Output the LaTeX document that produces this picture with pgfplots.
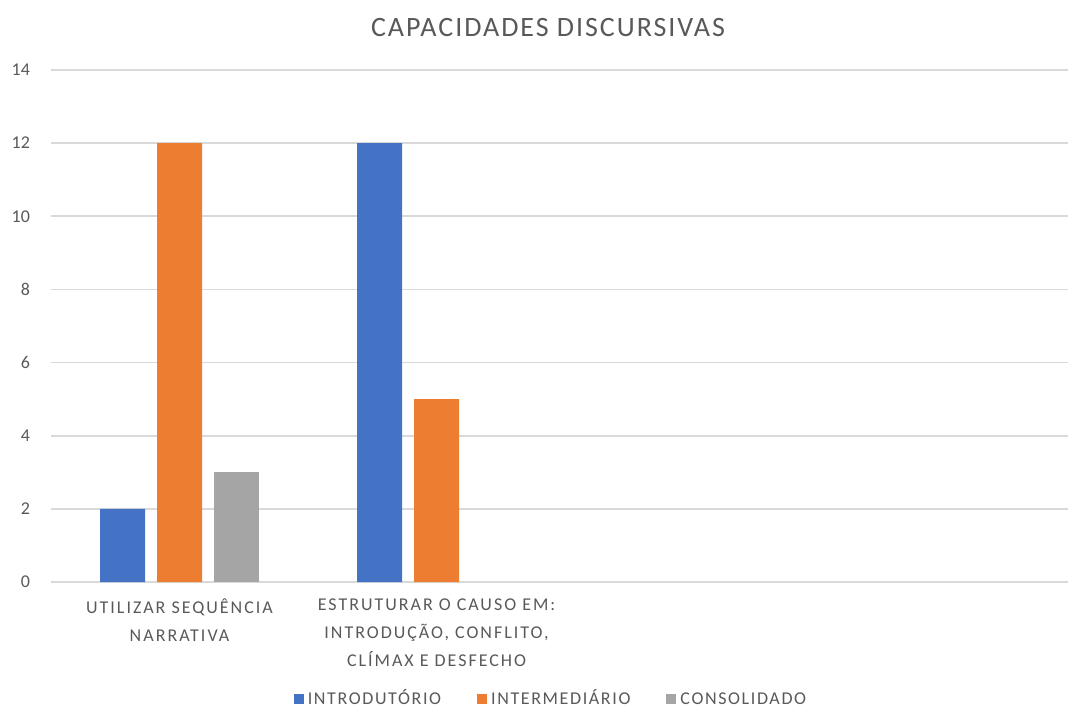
\documentclass[border=0pt]{standalone}
\usepackage{fontspec}
\setmainfont{Carlito}
\usepackage{pgfplots}
\pgfplotsset{compat=1.18}
\definecolor{cblue}{HTML}{4472C4}
\definecolor{corange}{HTML}{ED7D31}
\definecolor{cgray}{HTML}{A5A5A5}
\definecolor{ctext}{HTML}{595959}
\definecolor{cgrid}{HTML}{D9D9D9}
\begin{document}
\begin{tikzpicture}
\useasboundingbox (0,0) rectangle (534pt,353.5pt);
\node[font=\fontsize{14}{16}\selectfont\addfontfeature{LetterSpace=7}, text=ctext] at (274pt,339.5pt) {CAPACIDADES DISCURSIVAS};
\begin{axis}[
  at={(25.5pt,62.5pt)}, anchor=south west,
  width=508.5pt, height=256pt, scale only axis,
  ybar=6pt, bar width=22.5pt,
  xmin=-0.5, xmax=3.457,
  ymin=0, ymax=14,
  ytick={0,2,...,14},
  xtick={0,1,2,3},
  xticklabels={{UTILIZAR SEQUÊNCIA\\NARRATIVA},{ESTRUTURAR O CAUSO EM:\\INTRODUÇÃO, CONFLITO,\\CLÍMAX E DESFECHO},{},{}},
  xticklabel style={align=center, font=\fontsize{9}{14}\selectfont\addfontfeature{LetterSpace=11}, text=ctext, yshift=-5pt},
  yticklabel style={font=\fontsize{9}{11}\selectfont, text=ctext, xshift=-7pt},
  /pgf/number format/assume math mode=true,
  major tick length=0pt,
  ymajorgrids, grid style={cgrid, line width=0.8pt},
  axis x line*=bottom, axis y line*=left,
  x axis line style={cgrid, line width=0.8pt, -},
  y axis line style={draw=none},
  legend columns=3,
  legend style={at={(axis description cs:0.4926,-0.2285)}, anchor=center, draw=none,
    font=\fontsize{9}{11}\selectfont\addfontfeature{LetterSpace=9}, text=ctext,
    nodes={text height=6.5pt, text depth=1.5pt},
    /tikz/every even column/.append style={column sep=16pt}},
  legend image code/.code={\fill[#1] (0pt,-2.5pt) rectangle (5pt,2.5pt);},
]
\addplot[fill=cblue, draw=none] coordinates {(0,2) (1,12)};
\addplot[fill=corange, draw=none] coordinates {(0,12) (1,5)};
\addplot[fill=cgray, draw=none] coordinates {(0,3)};
\legend{INTRODUTÓRIO, INTERMEDIÁRIO, CONSOLIDADO}
\end{axis}
\end{tikzpicture}
\end{document}
